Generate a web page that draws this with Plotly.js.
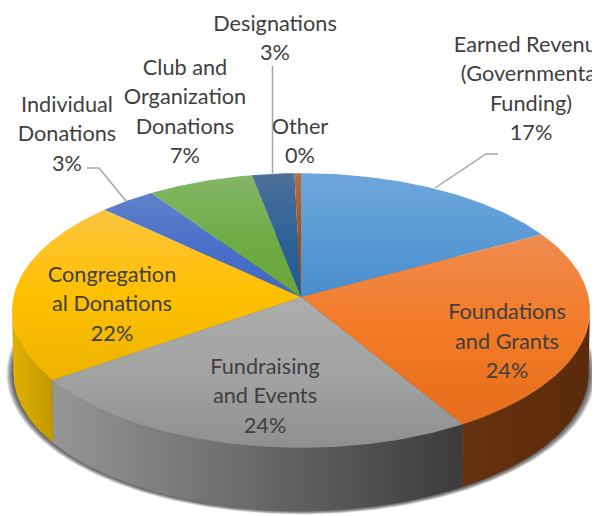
<!DOCTYPE html>
<html><head><meta charset="utf-8">
<script src="https://cdn.plot.ly/plotly-3.0.1.min.js"></script>
<style>html,body{margin:0;padding:0;background:#fff}#chart{width:597px;height:516px}</style>
</head><body><div id="chart"></div>
<script>
// ---- data ----
const categories = ["Earned Revenue (Governmental Funding)","Foundations and Grants","Fundraising and Events","Congregational Donations","Individual Donations","Club and Organization Donations","Designations","Other"];
const values = [17.0,24.4,23.8,21.8,3.5,6.5,2.6,0.4];
const percentLabels = ["17%","24%","24%","22%","3%","7%","3%","0%"];
const nameLines = [["Earned Revenue","(Governmental","Funding)"],["Foundations","and Grants"],["Fundraising","and Events"],["Congregation","al Donations"],["Individual","Donations"],["Club and","Organization","Donations"],["Designations"],["Other"]];
// ---- styles ----
const topLight = ["#6fa7dc","#ef8c50","#adadad","#fcc53f","#6181ca","#84b666","#4f7099","#b3704c"];
const topMid   = ["#5b9bd5","#f37a26","#a3a3a3","#ffc000","#4a70c8","#70ad47","#2f6398","#a8500f"];
const topDark  = ["#488ed0","#e66d1b","#8f8f8f","#ecb300","#4069c5","#68a63c","#1c5a96","#a04808"];
const wallLeft  = ["#3a6f9f","#663210","#969696","#e0b100","#2f4f8f","#4a7a30","#15446f","#70380a"];
const wallRight = ["#3a6f9f","#5c2b0b","#3b3b3b","#c09700","#2f4f8f","#4a7a30","#15446f","#70380a"];
const labelX = [531,507,265,112,67,185,275,300];
const labelY = [46.5,314,368.5,276.5,106.5,69.5,25.5,128.5];
const lineStep = 29.4;
// ---- projection of the tilted disc ----
const cx=301, cy=297, a=287.6, k=136, p=0.098, depth=63, botScale=0.995;
function pt(th,drop,sx,sy){
  const X=Math.sin(th), Y=-Math.cos(th), d=1-p*Y;
  const px=a*X/d*(sx||1), py=k*Y/d*(sy||1);
  return [cx+px, cy+drop+py];
}
function arc(t0,t1,drop,sx,sy){
  const n=Math.max(2,Math.ceil(Math.abs(t1-t0)/0.012)), xs=[], ys=[];
  for(let i=0;i<=n;i++){const q=pt(t0+(t1-t0)*i/n,drop,sx,sy);xs.push(q[0]);ys.push(q[1]);}
  return [xs,ys];
}
const total=values.reduce((s,v)=>s+v,0);
const bounds=[0]; values.forEach((v,i)=>bounds.push(bounds[i]+v/total*2*Math.PI));
const thR=Math.acos(-p), thL=2*Math.PI-thR;
const traces=[];
const base={type:"scatter",mode:"lines",line:{width:0},fill:"toself",hoverinfo:"skip",showlegend:false};
// soft shadow under the disc
[1.024,1.02,1.016,1.012,1.008,1.004].forEach(s=>{
  const b=arc(0,2*Math.PI,depth,botScale*s,s);
  traces.push(Object.assign({},base,{x:b[0],y:b[1],fillcolor:"rgba(0,0,0,0.14)"}));
});
// side walls
values.forEach((v,i)=>{
  const t0=Math.max(bounds[i],thR), t1=Math.min(bounds[i+1],thL);
  if(t1<=t0) return;
  const up=arc(t0,t1,0), lo=arc(t1,t0,depth,botScale);
  const xs=up[0].concat(lo[0]), ys=up[1].concat(lo[1]);
  traces.push(Object.assign({},base,{x:xs.concat([xs[0]]),y:ys.concat([ys[0]]),name:categories[i],
    fillgradient:{type:"horizontal",start:Math.min.apply(null,xs),stop:Math.max.apply(null,xs),
      colorscale:[[0,wallLeft[i]],[1,wallRight[i]]]}}));
});
// top faces
values.forEach((v,i)=>{
  const r=arc(bounds[i],bounds[i+1],0);
  const xs=[cx].concat(r[0],[cx]), ys=[cy].concat(r[1],[cy]);
  const y0=Math.min.apply(null,ys), y1=Math.max.apply(null,ys);
  traces.push(Object.assign({},base,{x:xs,y:ys,name:categories[i],
    fillgradient:{type:"vertical",start:y0,stop:y1,
      colorscale:[[0,topLight[i]],[0.5,topMid[i]],[1,topDark[i]]]}}));
});
// labels, one point per line so that the spacing is exact
const tx=[],ty=[],tt=[];
categories.forEach((c,i)=>{
  const lines=nameLines[i].concat([percentLabels[i]]);
  lines.forEach((l,j)=>{tx.push(labelX[i]);ty.push(labelY[i]+j*lineStep);tt.push(l);});
});
traces.push({type:"scatter",mode:"text",x:tx,y:ty,text:tt,textposition:"middle center",cliponaxis:true,hoverinfo:"skip",showlegend:false,
  textfont:{family:"Lato, 'Open Sans', sans-serif",size:21.7,color:"#404040"}});
const leader={color:"#a6a6a6",width:1.5};
const shapes=[
  {type:"path",path:"M272.5,66 L272.5,175",line:leader,layer:"above"},
  {type:"path",path:"M87,168 L99,168 L126,201",line:leader,layer:"above"},
  {type:"path",path:"M498,154 L486,154 L435,188",line:leader,layer:"above"}
];
Plotly.newPlot("chart",traces,{
  width:597,height:516,margin:{l:0,r:5,t:0,b:0},paper_bgcolor:"#fff",plot_bgcolor:"#fff",showlegend:false,
  xaxis:{range:[0,592],visible:false,fixedrange:true},
  yaxis:{range:[516,0],visible:false,fixedrange:true},
  shapes:shapes
},{staticPlot:true,displayModeBar:false});
</script></body></html>
